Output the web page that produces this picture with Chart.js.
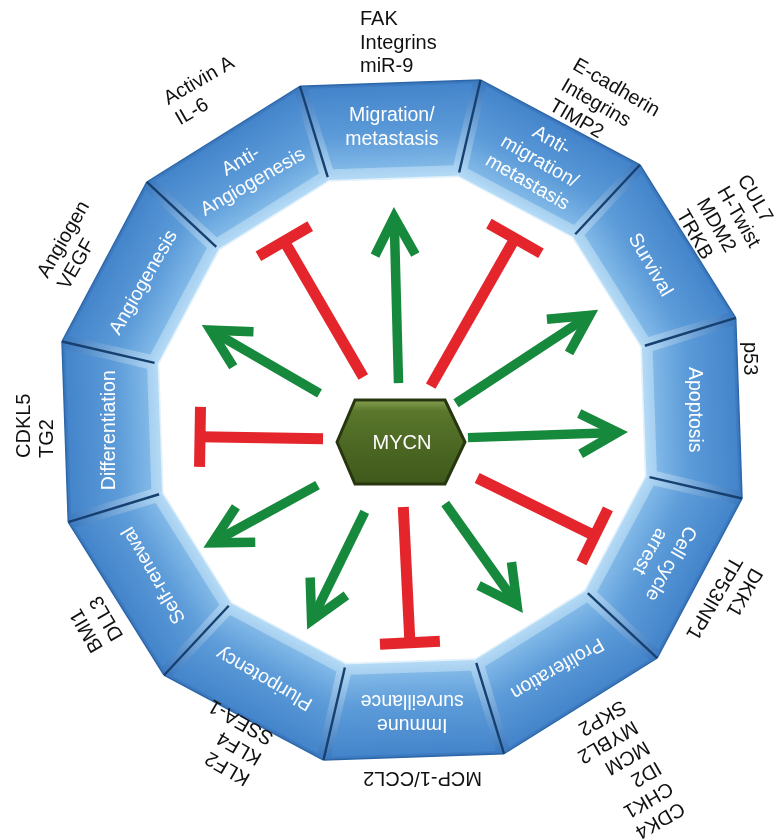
<!DOCTYPE html>
<html>
<head>
<meta charset="utf-8">
<script src="https://cdn.jsdelivr.net/npm/chart.js@4.4.1/dist/chart.umd.min.js"></script>
<style>
  html, body { margin: 0; padding: 0; background: #fff; }
  #wrap { width: 775px; height: 840px; }
</style>
</head>
<body>
<div id="wrap"><canvas id="mycn" width="775" height="840"></canvas></div>
<script>
// processes round the ring, clockwise from the top
const processes = [
  ['Migration/', 'metastasis'],
  ['Anti-', 'migration/', 'metastasis'],
  ['Survival'],
  ['Apoptosis'],
  ['Cell cycle', 'arrest'],
  ['Proliferation'],
  ['Immune', 'surveillance'],
  ['Pluripotency'],
  ['Self-renewal'],
  ['Differentiation'],
  ['Angiogenesis'],
  ['Anti-', 'Angiogenesis']
];

// MYCN targets for each process, outermost line first
const targets = [
  ['FAK', 'Integrins', 'miR-9'],
  ['E-cadherin', 'Integrins', 'TIMP2'],
  ['CUL7', 'H-Twist', 'MDM2', 'TRKB'],
  ['p53'],
  ['DKK1', 'TP53INP1'],
  ['CDK4', 'CHK1', 'ID2', 'MCM', 'MYBL2', 'SKP2'],
  ['MCP-1/CCL2'],
  ['KLF2', 'KLF4', 'SSEA-1'],
  ['BMI1', 'DLL3'],
  ['CDKL5', 'TG2'],
  ['Angiogen', 'VEGF'],
  ['Activin A', 'IL-6']
];

// 1 = MYCN promotes (arrow), -1 = MYCN inhibits (bar)
const effect = [1, -1, 1, 1, -1, 1, -1, 1, 1, -1, 1, -1];
// arrow direction (deg, clockwise from up) and start / end distance from MYCN
const arrowAngle = [358.5, 29.7, 56.7, 88, 116.2, 144.6, 177.2, 206.1, 241.3, 270.9, 300.1, 329.8];
const arrowFrom = [57, 62, 67, 68, 86, 78, 67, 80, 94, 77, 93, 73];
const arrowTo = [233, 232, 237, 228, 217, 212, 203, 211, 224, 200, 229, 230];

// ---- layout (data units are the same size as pixels) ----
const R_OUT = 349, R_IN = 250, RING_TURN = -2;
const hub = { x: -2, y: -20 };
const labelShift = [-42, -29, -41, -78, -48, -50, -80, -47, -48, -38, -55, -45];
const labelBase = [348, 342, 340, 342, 353, 352, 352, 336, 349, 349, 354, 366];
const FONT = '"Liberation Sans", Arial, Helvetica, sans-serif';
const GREEN = '#17893c', RED = '#e4262c';

const rad = d => d * Math.PI / 180;
const deg = r => r * 180 / Math.PI;
const polar = (o, a, r) => ({ x: o.x + r * Math.sin(rad(a)), y: o.y + r * Math.cos(rad(a)) });

const line = (data, color, width) => ({
  data, showLine: true, borderColor: color, borderWidth: width,
  borderCapStyle: 'butt', borderJoinStyle: 'miter', pointRadius: 0, fill: false
});

const datasets = [];
effect.forEach((e, i) => {
  const a = arrowAngle[i];
  if (e > 0) {
    const tip = polar(hub, a, arrowTo[i] - 10);
    datasets.push(line([polar(hub, a, arrowFrom[i]), tip], GREEN, 9.5));
    datasets.push(line([polar(tip, a + 152, 43), tip, polar(tip, a + 208, 43)], GREEN, 9.5));
  } else {
    const end = polar(hub, a, arrowTo[i]);
    datasets.push(line([polar(hub, a, arrowFrom[i]), end], RED, 11));
    datasets.push(line([polar(end, a - 90, 30), polar(end, a + 90, 30)], RED, 11));
  }
});

function path(ctx, pts) {
  ctx.beginPath();
  pts.forEach((p, k) => (k ? ctx.lineTo(p[0], p[1]) : ctx.moveTo(p[0], p[1])));
  ctx.closePath();
}

const ringPlugin = {
  id: 'ring',
  beforeDatasetsDraw(chart) {
    const { ctx, scales: { x, y } } = chart;
    const P = p => [x.getPixelForValue(p.x), y.getPixelForValue(p.y)];
    const C = { x: 0, y: 0 };
    ctx.save();
    processes.forEach((_, i) => {
      const a0 = i * 30 - 15 + RING_TURN, a1 = a0 + 30, am = a0 + 15;
      const quad = [polar(C, a0, R_OUT), polar(C, a1, R_OUT), polar(C, a1, R_IN), polar(C, a0, R_IN)].map(P);
      const o = P(polar(C, am, R_OUT * 0.966)), n = P(polar(C, am, R_IN * 0.966));
      let g = ctx.createLinearGradient(o[0], o[1], n[0], n[1]);
      g.addColorStop(0, '#3a78bf');
      g.addColorStop(1, '#b5dbf6');
      path(ctx, quad);
      ctx.fillStyle = g;
      ctx.fill();

      const face = [
        polar(C, a0 + deg(7 / R_OUT), R_OUT - 5),
        polar(C, a1 - deg(7 / R_OUT), R_OUT - 5),
        polar(C, a1 - deg(7 / R_IN), R_IN + 10),
        polar(C, a0 + deg(7 / R_IN), R_IN + 10)
      ].map(P);
      g = ctx.createLinearGradient(o[0], o[1], n[0], n[1]);
      g.addColorStop(0, '#4283ca');
      g.addColorStop(0.55, '#5d9cd9');
      g.addColorStop(1, '#8dc2ec');
      path(ctx, face);
      ctx.fillStyle = g;
      ctx.fill();

      ctx.lineWidth = 1.4;
      ctx.strokeStyle = '#2c66a8';
      ctx.beginPath(); ctx.moveTo(...quad[0]); ctx.lineTo(...quad[1]); ctx.stroke();
      ctx.strokeStyle = '#e2f1fb';
      ctx.lineWidth = 1.6;
      ctx.beginPath(); ctx.moveTo(...quad[2]); ctx.lineTo(...quad[3]); ctx.stroke();
    });
    // dark joints between the blocks
    ctx.strokeStyle = '#17406f';
    ctx.lineWidth = 2.4;
    processes.forEach((_, i) => {
      const a0 = i * 30 - 15 + RING_TURN;
      ctx.beginPath();
      ctx.moveTo(...P(polar(C, a0, R_OUT)));
      ctx.lineTo(...P(polar(C, a0, R_IN + 4)));
      ctx.stroke();
    });

    // MYCN hexagon
    const hc = { x: hub.x + 1, y: hub.y - 2 };
    const hex = [[-64, 0], [-46, 42], [44, 42], [64, 0], [44, -42], [-46, -42]]
      .map(([dx, dy]) => P({ x: hc.x + dx, y: hc.y + dy }));
    const top = P({ x: hc.x, y: hc.y + 42 }), bot = P({ x: hc.x, y: hc.y - 42 });
    const g = ctx.createLinearGradient(top[0], top[1], bot[0], bot[1]);
    g.addColorStop(0, '#85a150');
    g.addColorStop(0.13, '#5a772c');
    g.addColorStop(0.5, '#4d6924');
    g.addColorStop(1, '#3f591b');
    path(ctx, hex);
    ctx.fillStyle = g;
    ctx.fill();
    ctx.lineWidth = 3;
    ctx.strokeStyle = '#27360f';
    ctx.stroke();
    ctx.restore();
  },
  afterDatasetsDraw(chart) {
    const { ctx, scales: { x, y } } = chart;
    const cx = x.getPixelForValue(0), cy = y.getPixelForValue(0);
    ctx.save();
    // process names inside the blocks
    ctx.fillStyle = '#ffffff';
    ctx.font = '19.5px ' + FONT;
    ctx.textAlign = 'center';
    ctx.textBaseline = 'middle';
    const mid = (R_OUT + R_IN) / 2 * 0.966 + 3;
    processes.forEach((lines, i) => {
      ctx.save();
      ctx.translate(cx, cy);
      ctx.rotate(rad(i * 30));
      const t = mid * Math.sin(rad(RING_TURN));
      lines.forEach((s, j) => ctx.fillText(s, t, -mid + (j - (lines.length - 1) / 2) * 24));
      ctx.restore();
    });
    // target genes outside the ring
    ctx.fillStyle = '#111111';
    ctx.font = '20px ' + FONT;
    ctx.textAlign = 'left';
    ctx.textBaseline = 'alphabetic';
    targets.forEach((lines, i) => {
      ctx.save();
      ctx.translate(cx, cy);
      ctx.rotate(rad(i * 30));
      const n = lines.length;
      lines.forEach((s, j) => ctx.fillText(s, labelShift[i], -(labelBase[i] + (n - 1 - j) * 23.5)));
      ctx.restore();
    });
    // MYCN
    const hp = [x.getPixelForValue(hub.x + 2), y.getPixelForValue(hub.y - 2)];
    ctx.fillStyle = '#ffffff';
    ctx.font = '20px ' + FONT;
    ctx.textAlign = 'center';
    ctx.textBaseline = 'middle';
    ctx.fillText('MYCN', hp[0], hp[1] + 1);
    ctx.restore();
  }
};

new Chart(document.getElementById('mycn'), {
  type: 'scatter',
  data: { datasets },
  options: {
    responsive: false,
    animation: false,
    events: [],
    layout: { padding: 0 },
    scales: {
      x: { type: 'linear', min: -402, max: 373, display: false },
      y: { type: 'linear', min: -420, max: 420, display: false }
    },
    plugins: { legend: { display: false }, tooltip: { enabled: false } }
  },
  plugins: [ringPlugin]
});
</script>
</body>
</html>
